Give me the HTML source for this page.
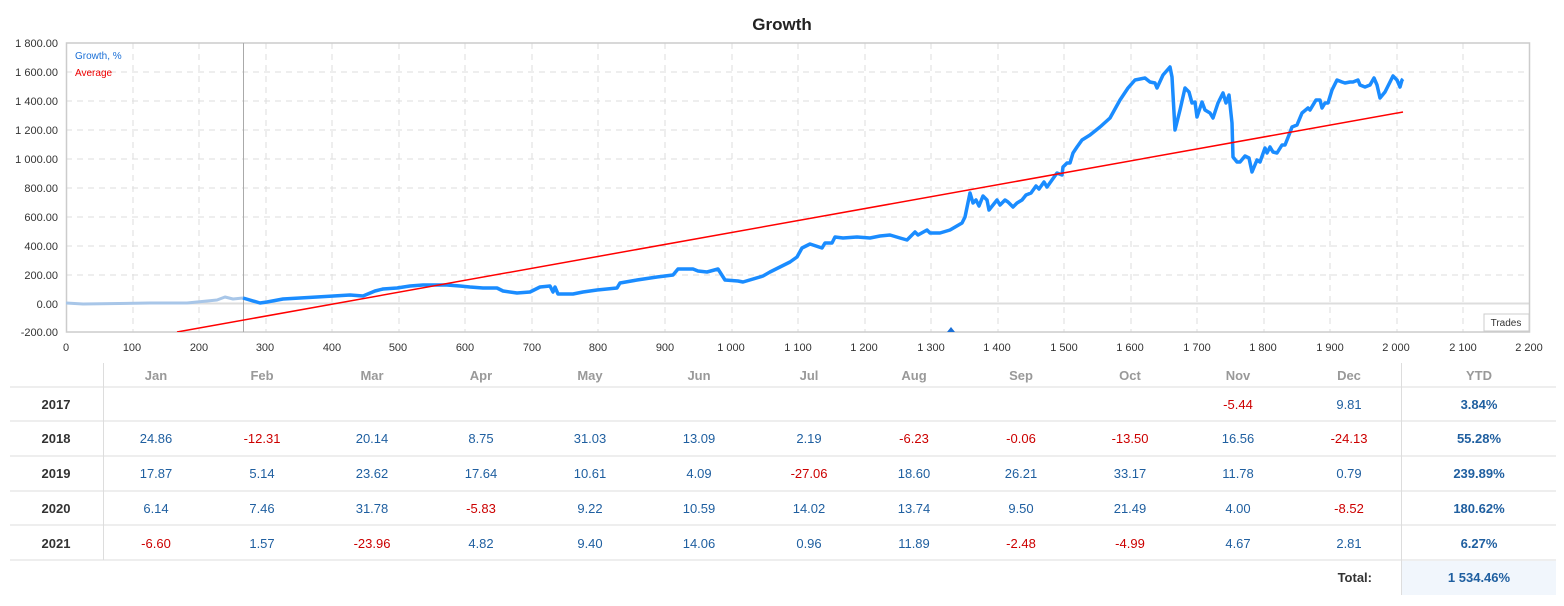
<!DOCTYPE html>
<html><head><meta charset="utf-8"><style>
body{margin:0;background:#fff;width:1564px;height:601px;overflow:hidden}
svg text{font-family:"Liberation Sans",sans-serif}
</style></head><body>
<svg width="1564" height="601" xmlns="http://www.w3.org/2000/svg">
<text x="782" y="30" text-anchor="middle" font-size="17" font-weight="bold" fill="#222">Growth</text>
<g stroke="#ddd" stroke-dasharray="6,5" stroke-width="1">
<line x1="66" x2="1530" y1="72" y2="72"/><line x1="66" x2="1530" y1="101" y2="101"/><line x1="66" x2="1530" y1="130" y2="130"/><line x1="66" x2="1530" y1="159" y2="159"/><line x1="66" x2="1530" y1="188" y2="188"/><line x1="66" x2="1530" y1="217" y2="217"/><line x1="66" x2="1530" y1="246" y2="246"/><line x1="66" x2="1530" y1="275" y2="275"/>
<line x1="133" x2="133" y1="43" y2="332"/><line x1="199" x2="199" y1="43" y2="332"/><line x1="266" x2="266" y1="43" y2="332"/><line x1="332" x2="332" y1="43" y2="332"/><line x1="399" x2="399" y1="43" y2="332"/><line x1="465" x2="465" y1="43" y2="332"/><line x1="532" x2="532" y1="43" y2="332"/><line x1="598" x2="598" y1="43" y2="332"/><line x1="665" x2="665" y1="43" y2="332"/><line x1="732" x2="732" y1="43" y2="332"/><line x1="798" x2="798" y1="43" y2="332"/><line x1="865" x2="865" y1="43" y2="332"/><line x1="931" x2="931" y1="43" y2="332"/><line x1="998" x2="998" y1="43" y2="332"/><line x1="1064" x2="1064" y1="43" y2="332"/><line x1="1131" x2="1131" y1="43" y2="332"/><line x1="1197" x2="1197" y1="43" y2="332"/><line x1="1264" x2="1264" y1="43" y2="332"/><line x1="1330" x2="1330" y1="43" y2="332"/><line x1="1397" x2="1397" y1="43" y2="332"/><line x1="1463" x2="1463" y1="43" y2="332"/>
</g>
<line x1="66" x2="1530" y1="303.5" y2="303.5" stroke="#ddd" stroke-width="2"/>
<rect x="66.5" y="43" width="1463" height="289" fill="none" stroke="#ccc" stroke-width="1.5"/>
<line x1="243.5" x2="243.5" y1="43" y2="332" stroke="#aaa"/>
<g font-size="11" fill="#333" text-anchor="end">
<text x="58" y="47">1 800.00</text><text x="58" y="76">1 600.00</text><text x="58" y="105">1 400.00</text><text x="58" y="134">1 200.00</text><text x="58" y="163">1 000.00</text><text x="58" y="192">800.00</text><text x="58" y="221">600.00</text><text x="58" y="250">400.00</text><text x="58" y="279">200.00</text><text x="58" y="308">0.00</text><text x="58" y="336">-200.00</text>
</g>
<g font-size="11" fill="#333" text-anchor="middle">
<text x="66" y="351">0</text><text x="132" y="351">100</text><text x="199" y="351">200</text><text x="265" y="351">300</text><text x="332" y="351">400</text><text x="398" y="351">500</text><text x="465" y="351">600</text><text x="532" y="351">700</text><text x="598" y="351">800</text><text x="665" y="351">900</text><text x="731" y="351">1 000</text><text x="798" y="351">1 100</text><text x="864" y="351">1 200</text><text x="931" y="351">1 300</text><text x="997" y="351">1 400</text><text x="1064" y="351">1 500</text><text x="1130" y="351">1 600</text><text x="1197" y="351">1 700</text><text x="1263" y="351">1 800</text><text x="1330" y="351">1 900</text><text x="1396" y="351">2 000</text><text x="1463" y="351">2 100</text><text x="1529" y="351">2 200</text>
</g>
<rect x="1484" y="314" width="45" height="17" fill="#fff" stroke="#ccc"/>
<text x="1506" y="326" font-size="10" fill="#333" text-anchor="middle">Trades</text>
<text x="75" y="59" font-size="10" fill="#1a6fd6">Growth, %</text>
<text x="75" y="76" font-size="10" fill="#e00">Average</text>
<clipPath id="c"><rect x="66" y="43" width="1464" height="289"/></clipPath>
<g clip-path="url(#c)" fill="none" stroke-linejoin="round">
<polyline stroke="#a8c6e8" stroke-width="3" points="66,303 83,304 150,303 187,303 217,300 225,297 233,299 243,298"/>
<polyline stroke="#1a8cff" stroke-width="3.5" points="243,298 260,303 267,302 283,299 317,297 350,295 363,296 375,291 383,289 397,288 410,286 423,285 447,285 460,286 470,287 483,288 497,288 503,291 517,293 530,292 540,287 550,286 553,292 555,287 558,294 573,294 583,292 597,290 617,288 620,283 637,280 657,277 673,275 678,269 693,269 698,271 707,272 718,269 725,280 738,281 743,282 763,276 770,272 780,267 790,262 797,257 802,248 810,244 822,248 825,243 832,243 835,237 843,238 857,237 870,238 880,236 890,235 900,238 907,240 915,232 918,235 927,230 930,233 940,233 950,230 962,223 965,217 970,193 973,203 976,200 979,206 983,196 987,200 989,210 997,200 1000,205 1005,200 1008,202 1013,207 1017,203 1022,200 1026,195 1031,193 1036,186 1039,189 1044,182 1047,187 1057,173 1062,175 1063,167 1067,163 1070,163 1073,153 1077,147 1082,140 1090,135 1100,127 1110,118 1120,100 1128,88 1135,80 1145,78 1150,82 1155,83 1157,88 1163,75 1170,67 1172,77 1175,130 1180,110 1185,88 1189,92 1192,103 1195,102 1197,117 1202,102 1205,110 1210,113 1213,118 1218,103 1223,93 1226,103 1229,95 1232,123 1233,157 1237,162 1240,162 1245,156 1249,158 1252,172 1257,160 1260,162 1265,148 1267,153 1270,147 1273,152 1277,153 1282,145 1285,145 1289,135 1292,127 1297,125 1302,113 1308,108 1310,110 1316,100 1320,100 1322,108 1325,103 1328,103 1332,90 1337,80 1342,82 1345,83 1350,82 1353,82 1358,80 1360,85 1365,87 1370,85 1374,78 1377,85 1380,98 1385,92 1387,88 1390,82 1393,76 1397,80 1400,87 1402,80 1403,79"/>
<line stroke="#f00" stroke-width="1.5" x1="177" y1="332" x2="1403" y2="112"/>
</g>
<polygon points="947,332 951,327 955,332" fill="#1a6fd6"/>
<g stroke="#ddd" stroke-width="1">
<line x1="10" x2="1556" y1="387" y2="387"/><line x1="10" x2="1556" y1="421" y2="421"/><line x1="10" x2="1556" y1="456" y2="456"/><line x1="10" x2="1556" y1="491" y2="491"/><line x1="10" x2="1556" y1="525" y2="525"/><line x1="10" x2="1556" y1="560" y2="560"/>
<line x1="103.5" x2="103.5" y1="363" y2="560"/><line x1="1401.5" x2="1401.5" y1="363" y2="595"/>
</g>
<rect x="1402" y="561" width="154" height="34" fill="#f1f6fc"/>
<g font-size="13" font-weight="bold" fill="#999" text-anchor="middle">
<text x="156" y="380">Jan</text><text x="262" y="380">Feb</text><text x="372" y="380">Mar</text><text x="481" y="380">Apr</text><text x="590" y="380">May</text><text x="699" y="380">Jun</text><text x="809" y="380">Jul</text><text x="914" y="380">Aug</text><text x="1021" y="380">Sep</text><text x="1130" y="380">Oct</text><text x="1238" y="380">Nov</text><text x="1349" y="380">Dec</text><text x="1479" y="380">YTD</text>
</g>
<g font-size="13" font-weight="bold" fill="#333" text-anchor="middle">
<text x="56" y="409">2017</text><text x="56" y="443">2018</text><text x="56" y="478">2019</text><text x="56" y="513">2020</text><text x="56" y="548">2021</text>
<text x="1372" y="582" text-anchor="end">Total:</text>
</g>
<g font-size="13" text-anchor="middle" fill="#1f5fa0">
<text x="1238" y="409" fill="#c00">-5.44</text><text x="1349" y="409">9.81</text>
<text x="156" y="443">24.86</text><text x="262" y="443" fill="#c00">-12.31</text><text x="372" y="443">20.14</text><text x="481" y="443">8.75</text><text x="590" y="443">31.03</text><text x="699" y="443">13.09</text><text x="809" y="443">2.19</text><text x="914" y="443" fill="#c00">-6.23</text><text x="1021" y="443" fill="#c00">-0.06</text><text x="1130" y="443" fill="#c00">-13.50</text><text x="1238" y="443">16.56</text><text x="1349" y="443" fill="#c00">-24.13</text>
<text x="156" y="478">17.87</text><text x="262" y="478">5.14</text><text x="372" y="478">23.62</text><text x="481" y="478">17.64</text><text x="590" y="478">10.61</text><text x="699" y="478">4.09</text><text x="809" y="478" fill="#c00">-27.06</text><text x="914" y="478">18.60</text><text x="1021" y="478">26.21</text><text x="1130" y="478">33.17</text><text x="1238" y="478">11.78</text><text x="1349" y="478">0.79</text>
<text x="156" y="513">6.14</text><text x="262" y="513">7.46</text><text x="372" y="513">31.78</text><text x="481" y="513" fill="#c00">-5.83</text><text x="590" y="513">9.22</text><text x="699" y="513">10.59</text><text x="809" y="513">14.02</text><text x="914" y="513">13.74</text><text x="1021" y="513">9.50</text><text x="1130" y="513">21.49</text><text x="1238" y="513">4.00</text><text x="1349" y="513" fill="#c00">-8.52</text>
<text x="156" y="548" fill="#c00">-6.60</text><text x="262" y="548">1.57</text><text x="372" y="548" fill="#c00">-23.96</text><text x="481" y="548">4.82</text><text x="590" y="548">9.40</text><text x="699" y="548">14.06</text><text x="809" y="548">0.96</text><text x="914" y="548">11.89</text><text x="1021" y="548" fill="#c00">-2.48</text><text x="1130" y="548" fill="#c00">-4.99</text><text x="1238" y="548">4.67</text><text x="1349" y="548">2.81</text>
</g>
<g font-size="13" font-weight="bold" text-anchor="middle" fill="#1f5fa0">
<text x="1479" y="409">3.84%</text><text x="1479" y="443">55.28%</text><text x="1479" y="478">239.89%</text><text x="1479" y="513">180.62%</text><text x="1479" y="548">6.27%</text><text x="1479" y="582">1 534.46%</text>
</g>
</svg>
</body></html>
